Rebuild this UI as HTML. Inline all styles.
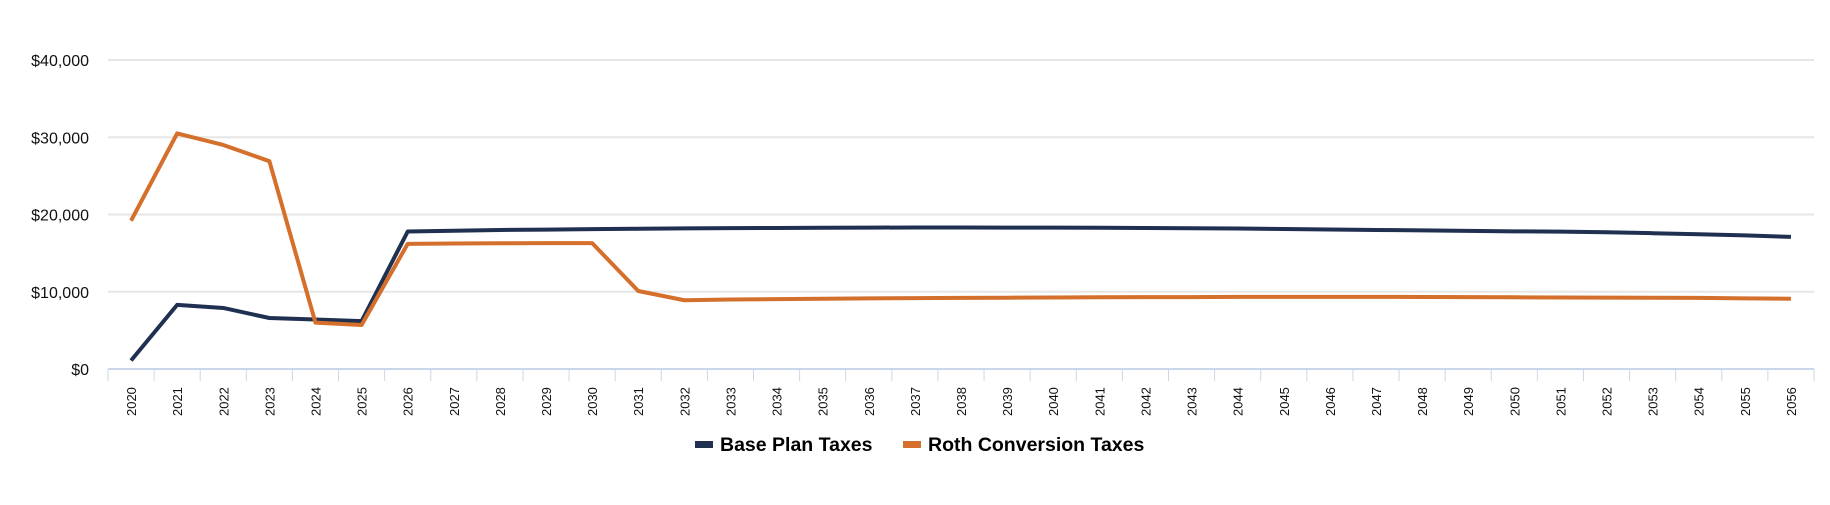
<!DOCTYPE html>
<html><head><meta charset="utf-8"><style>
body{margin:0;background:#fff;font-family:"Liberation Sans",Arial,sans-serif}
svg{display:block}
</style></head><body>
<svg id="chart" width="1830" height="505" xmlns="http://www.w3.org/2000/svg">
<g id="grid"></g>
<g id="yaxis"></g>
<g id="xaxis"></g>
<g id="series"></g>
<g font-weight="bold" font-size="19.5" fill="#000">
 <g>
  <rect x="695" y="441" width="18" height="7" fill="#1f3050"/>
  <text x="720" y="451">Base Plan Taxes</text>
 </g>
 <g>
  <rect x="903" y="441" width="18" height="7" fill="#d46f2c"/>
  <text x="928" y="451">Roth Conversion Taxes</text>
 </g>
</g>
</svg>
<script>
const years=[];for(let y=2020;y<=2056;y++)years.push(String(y));
const baseValues=[1100,8300,7900,6600,6400,6200,17800,17900,18000,18050,18100,18150,18200,18230,18260,18280,18300,18320,18310,18300,18300,18280,18250,18220,18180,18120,18060,18000,17950,17880,17820,17780,17700,17580,17450,17300,17100];
const rothValues=[19200,30500,29000,26900,6000,5700,16200,16250,16280,16300,16300,10100,8900,9000,9050,9100,9150,9180,9200,9230,9260,9280,9300,9310,9330,9340,9340,9340,9320,9300,9280,9260,9240,9220,9200,9150,9100];
const yTicks=[0,10000,20000,30000,40000];
const yTickLabels=["$0","$10,000","$20,000","$30,000","$40,000"];
const NS="http://www.w3.org/2000/svg";
const plotL=108,plotR=1814,plotT=60,plotB=369,yMax=40000;
const bw=(plotR-plotL)/years.length;
const xs=i=>plotL+bw*(i+0.5);
const ys=v=>plotB-(v/yMax)*(plotB-plotT);
function mk(tag,attrs,parent){const e=document.createElementNS(NS,tag);for(const k in attrs)e.setAttribute(k,attrs[k]);parent.appendChild(e);return e;}
const grid=document.getElementById('grid'),yax=document.getElementById('yaxis'),xax=document.getElementById('xaxis'),ser=document.getElementById('series');
yTicks.forEach((t,i)=>{
 if(t>0){const l=mk('line',{x1:plotL,x2:plotR,y1:ys(t),y2:ys(t),stroke:'#e6e6e6','stroke-width':2},grid);
 
 }
 const tx=mk('text',{x:89,y:ys(t)+6,'text-anchor':'end','font-size':16,fill:'#111'},yax);
 tx.textContent=yTickLabels[i];
 
 
});
const ax=mk('line',{x1:plotL,x2:plotR,y1:plotB,y2:plotB,stroke:'#ccd6eb','stroke-width':2},xax);


for(let i=0;i<=years.length;i++){
 const x=plotL+bw*i;
 const tk=mk('line',{x1:x,x2:x,y1:plotB,y2:plotB+12,stroke:'#ccd6eb','stroke-width':1},xax);
 
 
}
years.forEach((y,i)=>{
 const x=xs(i)+5;
 const t=mk('text',{x:x,y:416,'font-size':13,fill:'#111',transform:`rotate(-90 ${x} 416)`},xax);
 t.textContent=y;
 
 
});
function line(vals,color,name){
 const p=mk('polyline',{points:vals.map((v,i)=>xs(i)+','+ys(v)).join(' '),fill:'none',stroke:color,'stroke-width':4,'stroke-linejoin':'round'},ser);
 
 
}
line(baseValues,'#1f3050','base-plan-taxes-line');
line(rothValues,'#d46f2c','roth-conversion-taxes-line');
</script>
</body></html>
